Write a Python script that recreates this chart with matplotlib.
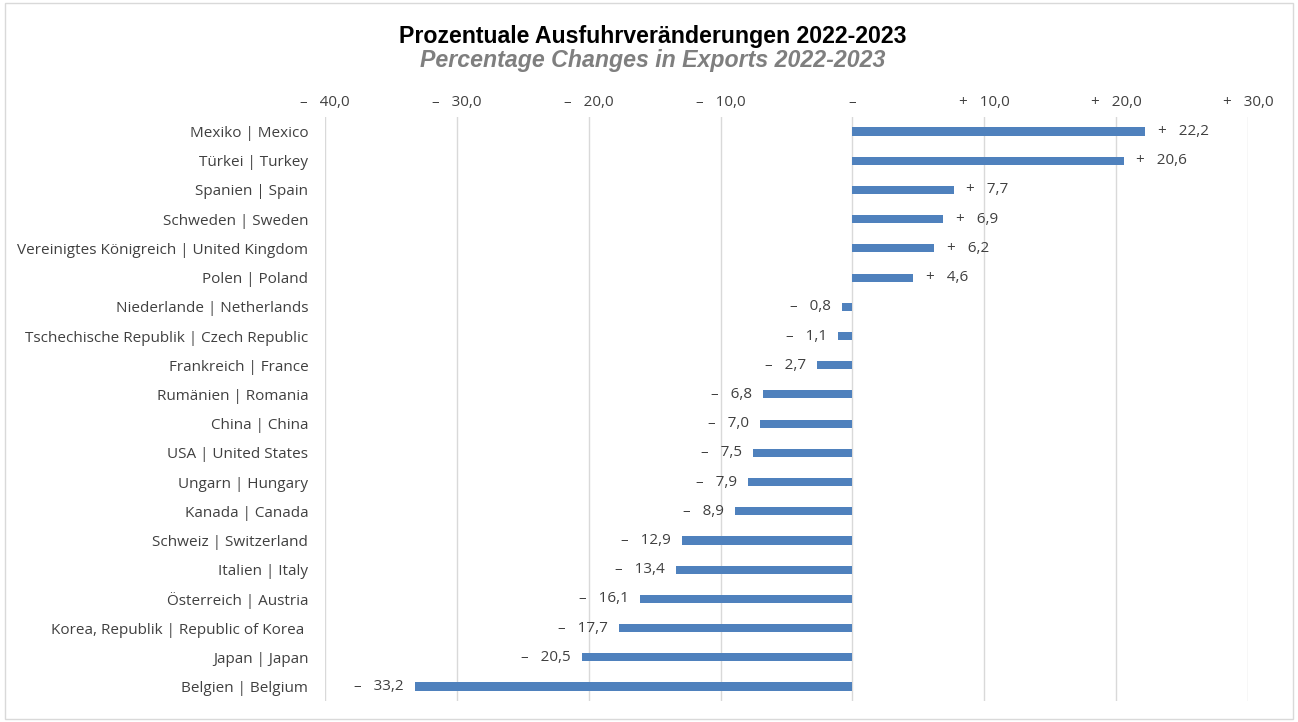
import numpy as np
import matplotlib.pyplot as plt

countries = [
    "Mexiko | Mexico",
    "Türkei | Turkey",
    "Spanien | Spain",
    "Schweden | Sweden",
    "Vereinigtes Königreich | United Kingdom",
    "Polen | Poland",
    "Niederlande | Netherlands",
    "Tschechische Republik | Czech Republic",
    "Frankreich | France",
    "Rumänien | Romania",
    "China | China",
    "USA | United States",
    "Ungarn | Hungary",
    "Kanada | Canada",
    "Schweiz | Switzerland",
    "Italien | Italy",
    "Österreich | Austria",
    "Korea, Republik | Republic of Korea ",
    "Japan | Japan",
    "Belgien | Belgium",
]
changes = [22.2, 20.6, 7.7, 6.9, 6.2, 4.6, -0.8, -1.1, -2.7, -6.8,
           -7.0, -7.5, -7.9, -8.9, -12.9, -13.4, -16.1, -17.7, -20.5, -33.2]
ticks = [-40, -30, -20, -10, 0, 10, 20, 30]


def fmt(v):
    if v == 0:
        return "\u2013"
    sign = "+" if v > 0 else "\u2013"
    return sign + "   " + f"{abs(v):.1f}".replace(".", ",")


plt.rcParams['font.family'] = ['Open Sans', 'DejaVu Sans']
text_col = "#404040"
bar_col = "#4f81bd"

fig = plt.figure(figsize=(12.98, 7.22), dpi=100)
ax = fig.add_axes([0.2504, 0.029, 0.711, 0.809])

y = np.arange(len(countries))
ax.barh(y, changes, height=0.28, color=bar_col, zorder=3)
ax.set_ylim(len(countries) - 0.5, -0.5)
ax.set_xlim(-40, 30)

ax.set_yticks(y)
ax.set_yticklabels(countries, fontsize=11, color=text_col)
ax.set_xticks(ticks)
ax.set_xticklabels([fmt(t) for t in ticks], fontsize=11, color=text_col)
ax.xaxis.tick_top()
ax.tick_params(length=0, axis='x', pad=5)
ax.tick_params(length=0, axis='y', pad=12)
ax.grid(axis='x', color="#d9d9d9", linewidth=1, zorder=0)
for s in ax.spines.values():
    s.set_visible(False)

for yi, v in zip(y, changes):
    if v > 0:
        ax.annotate(fmt(v), (v, yi), xytext=(9, 0), textcoords='offset points',
                    ha='left', va='center', fontsize=11, color=text_col)
    else:
        ax.annotate(fmt(v), (v, yi), xytext=(-8, 0), textcoords='offset points',
                    ha='right', va='center', fontsize=11, color=text_col)

fig.text(0.503, 0.950, "Prozentuale Ausfuhrveränderungen 2022-2023", ha='center', va='center',
         fontsize=16.7, fontweight='bold', family=['Liberation Sans', 'DejaVu Sans'], color='black')
fig.text(0.503, 0.916, "Percentage Changes in Exports 2022-2023", ha='center', va='center',
         fontsize=16.7, fontweight='bold', style='italic', family=['Liberation Sans', 'DejaVu Sans'],
         color='#7f7f7f')

border = plt.Rectangle((0.004, 0.004), 0.992, 0.992, transform=fig.transFigure,
                       fill=False, edgecolor="#d9d9d9", linewidth=1)
fig.patches.append(border)

fig.savefig("out.png", dpi=100)
